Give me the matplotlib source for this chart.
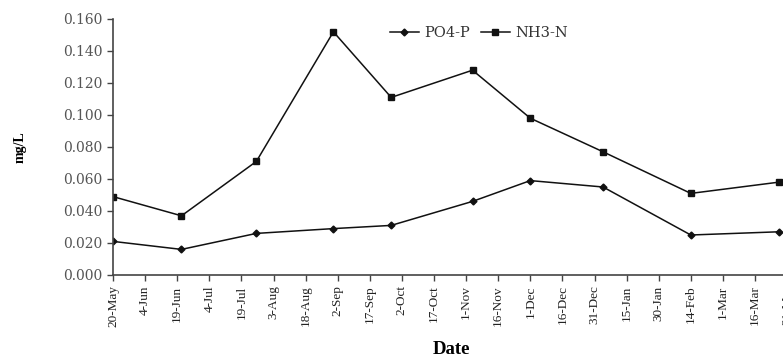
import matplotlib
matplotlib.use("Agg")
import matplotlib.pyplot as plt
import numpy as np
import pandas as pd

# sampling dates and concentrations (mg/L)
sample_dates = ["2006-05-20", "2006-06-21", "2006-07-26", "2006-08-31", "2006-09-27",
                "2006-11-04", "2006-12-01", "2007-01-04", "2007-02-14", "2007-03-27"]
po4_p = [0.021, 0.016, 0.026, 0.029, 0.031, 0.046, 0.059, 0.055, 0.025, 0.027]
nh3_n = [0.049, 0.037, 0.071, 0.152, 0.111, 0.128, 0.098, 0.077, 0.051, 0.058]

# tick dates every 15 days from 20-May
tick_dates = pd.date_range("2006-05-20", "2007-03-31", freq="15D")
tick_labels = [f"{d.day}-{d.strftime('%b')}" for d in tick_dates]

x = pd.to_datetime(sample_dates)

plt.rcParams["font.family"] = ["Liberation Serif", "DejaVu Serif"]

fig = plt.figure(figsize=(7.83, 3.57), dpi=100)
# axes deliberately run past the right edge (the original is cropped)
ax = fig.add_axes([113 / 783, 82 / 357, 695.5 / 783, 256 / 357])

ax.plot(x, po4_p, color="#111111", lw=1.1, marker="D", ms=3.5, label="PO4-P")
ax.plot(x, nh3_n, color="#111111", lw=1.1, marker="s", ms=5, label="NH3-N")

ax.set_ylim(0, 0.160)
ax.set_yticks(np.arange(0, 0.161, 0.02))
ax.yaxis.set_major_formatter(matplotlib.ticker.FormatStrFormatter("%.3f"))
ax.set_xlim(pd.Timestamp("2006-05-20"), pd.Timestamp("2006-05-20") + pd.Timedelta(days=325))
ax.set_xticks(tick_dates)
ax.set_xticklabels(tick_labels, rotation=90)

ax.tick_params(axis="both", direction="out", length=4, width=1, colors="#444444")
ax.tick_params(axis="x", labelsize=9.5, labelcolor="#222222")
ax.tick_params(axis="y", labelsize=10, labelcolor="#555555")
for lab in ax.get_yticklabels():
    lab.set_family("DejaVu Serif")
for side in ["top", "right"]:
    ax.spines[side].set_visible(False)
for side in ["left", "bottom"]:
    ax.spines[side].set_color("#444444")
    ax.spines[side].set_linewidth(1.2)

fig.text(20 / 783, 1 - 147 / 357, "mg/L", rotation=90, ha="center", va="center",
         fontsize=10, fontweight="bold")
fig.text(451 / 783, 1 - 349 / 357, "Date", ha="center", va="center",
         fontsize=13.5, fontweight="bold")

leg = ax.legend(loc="center", bbox_to_anchor=(479 / 783, 1 - 33 / 357),
                bbox_transform=fig.transFigure, ncol=2, frameon=False,
                prop={"family": "DejaVu Serif", "size": 10.5},
                handlelength=2.0, columnspacing=0.7, handletextpad=0.4)
for t in leg.get_texts():
    t.set_color("#333333")

fig.savefig("out.png", dpi=100)
